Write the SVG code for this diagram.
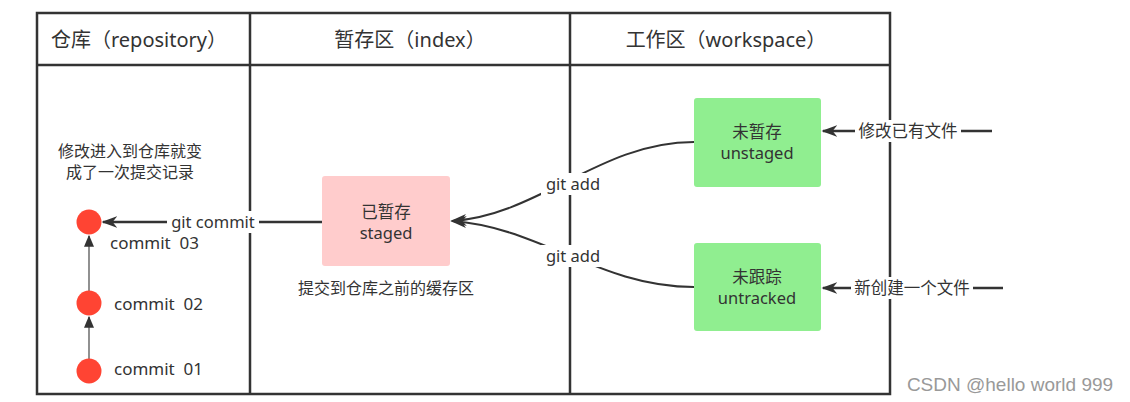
<svg xmlns="http://www.w3.org/2000/svg" width="1130" height="402" viewBox="0 0 1130 402">
<style>
text{font-family:"Noto Sans","Noto Sans CJK SC",sans-serif;fill:#333;}
.hd{font-size:20px;text-anchor:middle;}
.nt{font-size:16px;text-anchor:middle;}
.lb{font-size:16.5px;text-anchor:middle;}
.cm{font-size:17px;white-space:pre;}
.frame{fill:none;stroke:#333;stroke-width:2.5;}
.conn{fill:none;stroke:#333;stroke-width:2.5;}
.curve{fill:none;stroke:#333;stroke-width:2;}
.thin{fill:none;stroke:#555;stroke-width:1.3;}
.bg{fill:#fff;}
</style>
<defs>
<marker id="ahb" viewBox="0 0 10 10" refX="9" refY="5" markerWidth="16" markerHeight="12" markerUnits="userSpaceOnUse" orient="auto" preserveAspectRatio="none"><path d="M0,0 L10,5 L0,10 L3,5 z" fill="#333"/></marker>
<marker id="ahs" viewBox="0 0 10 10" refX="9" refY="5" markerWidth="12" markerHeight="10" markerUnits="userSpaceOnUse" orient="auto" preserveAspectRatio="none"><path d="M0,0 L10,5 L0,10 z" fill="#333"/></marker>
</defs>
<rect width="1130" height="402" fill="#fff"/>
<g id="frame">
<rect class="frame" x="37" y="13" width="853" height="381"/>
<line class="frame" x1="37" y1="65" x2="890" y2="65"/>
<line class="frame" x1="250" y1="13" x2="250" y2="394"/>
<line class="frame" x1="570" y1="13" x2="570" y2="394"/>
<text class="hd" x="139" y="47">仓库（repository）</text>
<text class="hd" x="410" y="47">暂存区（index）</text>
<text class="hd" x="726" y="47">工作区（workspace）</text>
</g>
<g id="connectors">
<line class="thin" x1="89" y1="291" x2="89" y2="236" marker-end="url(#ahs)"/>
<line class="thin" x1="89" y1="359" x2="89" y2="317" marker-end="url(#ahs)"/>
<line class="conn" x1="322" y1="222" x2="103" y2="222" marker-end="url(#ahb)"/>
<path class="curve" d="M694,142 C600,142 540,215 452,221" marker-end="url(#ahb)"/>
<path class="curve" d="M694,287 C600,287 540,227 452,221" marker-end="url(#ahb)"/>
<line class="conn" x1="992" y1="131" x2="823" y2="131" marker-end="url(#ahb)"/>
<line class="conn" x1="1003" y1="288" x2="823" y2="288" marker-end="url(#ahb)"/>
<rect class="bg" x="167" y="211" width="92" height="22"/>
<text class="lb" x="213" y="228">git commit</text>
<rect class="bg" x="541" y="173" width="64" height="22"/>
<text class="lb" x="573" y="190">git add</text>
<rect class="bg" x="541" y="245" width="64" height="22"/>
<text class="lb" x="573" y="262">git add</text>
<rect class="bg" x="855" y="120" width="106" height="22"/>
<text class="lb" x="908" y="137">修改已有文件</text>
<rect class="bg" x="851" y="277" width="122" height="22"/>
<text class="lb" x="912" y="294">新创建一个文件</text>
</g>
<g id="note-repo">
<text class="nt" x="130" y="157">修改进入到仓库就变</text>
<text class="nt" x="130" y="178">成了一次提交记录</text>
</g>
<g id="commit03"><circle cx="89" cy="222" r="12.5" fill="#FF4433"/><text class="cm" x="110" y="249">commit  03</text></g>
<g id="commit02"><circle cx="89" cy="303" r="12.5" fill="#FF4433"/><text class="cm" x="114" y="310">commit  02</text></g>
<g id="commit01"><circle cx="89" cy="371" r="12.5" fill="#FF4433"/><text class="cm" x="114" y="375">commit  01</text></g>
<g id="staged">
<rect x="322" y="176" width="128" height="90" rx="3" fill="#FFCCCC"/>
<text class="lb" x="386" y="218">已暂存</text>
<text class="lb" x="386" y="239">staged</text>
</g>
<g id="note-index"><text class="nt" x="386" y="294">提交到仓库之前的缓存区</text></g>
<g id="unstaged">
<rect x="694" y="98" width="127" height="89" rx="3" fill="#90EE90"/>
<text class="lb" x="757" y="138">未暂存</text>
<text class="lb" x="757" y="159">unstaged</text>
</g>
<g id="untracked">
<rect x="694" y="243" width="127" height="88" rx="3" fill="#90EE90"/>
<text class="lb" x="757" y="283">未跟踪</text>
<text class="lb" x="757" y="304">untracked</text>
</g>
<text x="1010" y="391" style="font-family:'Liberation Sans',Arial,sans-serif;font-size:19px;fill:#999;text-anchor:middle;">CSDN @hello world 999</text>
</svg>
